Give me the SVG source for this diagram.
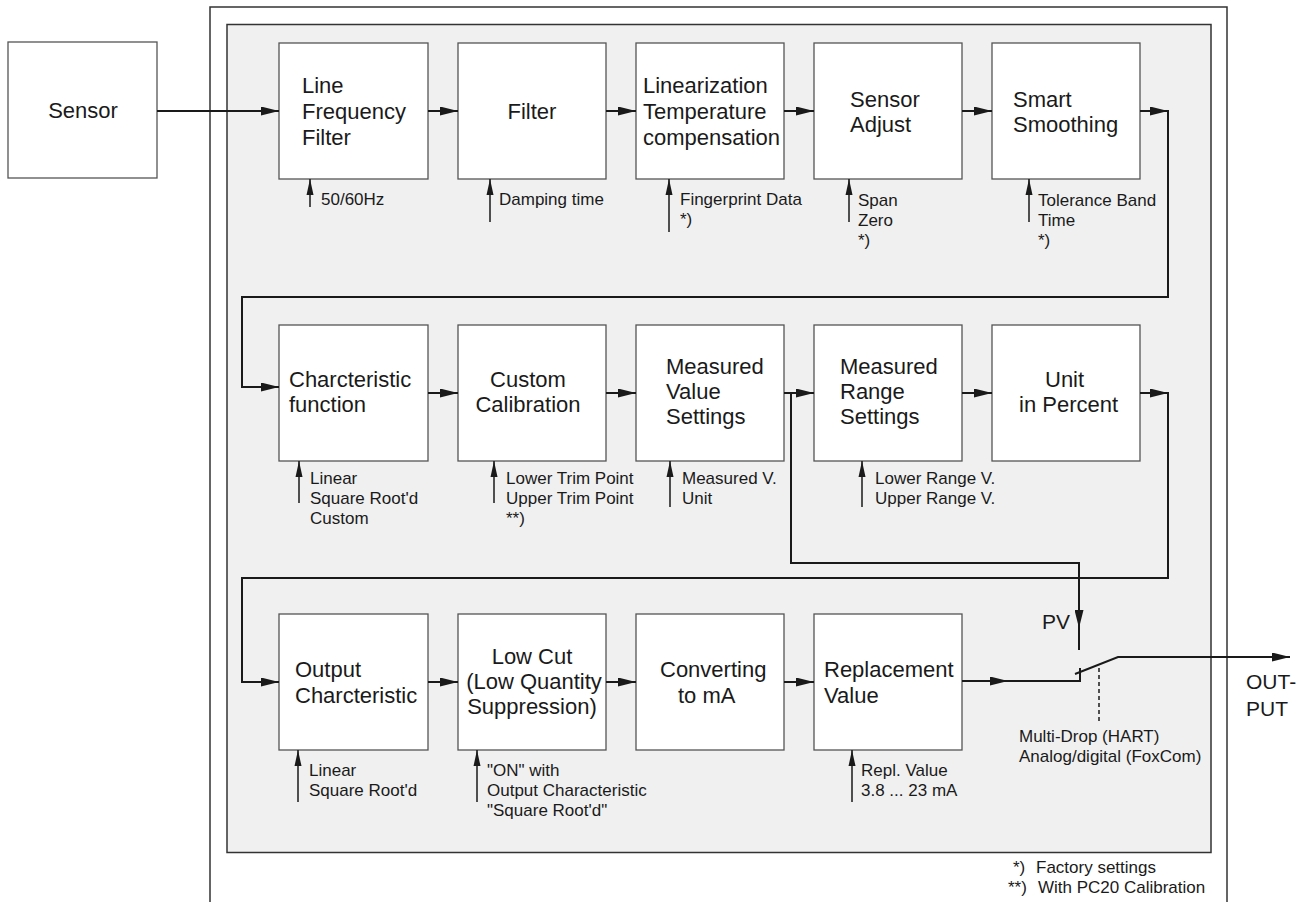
<svg xmlns="http://www.w3.org/2000/svg" width="1308" height="902" viewBox="0 0 1308 902">
<style>
.bg{fill:#fff}
.frame{fill:none;stroke:#333;stroke-width:1.5}
.panel{fill:#f0f0f0;stroke:#333;stroke-width:1.5}
.box{fill:#fff;stroke:#555;stroke-width:1.3}
.t{font-family:"Liberation Sans",Arial,Helvetica,sans-serif;font-size:22px;fill:#1a1a1a}
.s{font-size:17px}
.m{text-anchor:middle}
.e{text-anchor:end}
.c{fill:none;stroke:#1a1a1a;stroke-width:2}
.p{fill:none;stroke:#1a1a1a;stroke-width:1.5}
.d{fill:none;stroke:#1a1a1a;stroke-width:1.5;stroke-dasharray:4 3}
</style>
<defs>
<marker id="ah" markerUnits="userSpaceOnUse" markerWidth="18" markerHeight="9" refX="18" refY="4.5" orient="auto">
<path d="M0,0 L18,4.5 L0,9 z" fill="#1a1a1a"/>
</marker>
<marker id="ap" markerUnits="userSpaceOnUse" markerWidth="16" markerHeight="8" refX="16" refY="4" orient="auto">
<path d="M0,0.5 L16,4 L0,7.5 z" fill="#1a1a1a"/>
</marker>
</defs>
<rect class="bg" x="0" y="0" width="1308" height="902"/>
<path class="frame" d="M210,903 V7 H1227 V903"/>
<rect class="panel" x="227" y="24.5" width="984" height="828"/>

<g id="sensor"><rect class="box" x="8" y="42" width="149" height="136"/><text class="t m" x="83" y="118">Sensor</text></g>

<g id="n1"><rect class="box" x="279" y="43" width="149" height="136"/>
<text class="t" x="302" y="93">Line</text><text class="t" x="302" y="119">Frequency</text><text class="t" x="302" y="145">Filter</text></g>
<g id="n2"><rect class="box" x="458" y="43" width="148" height="136"/>
<text class="t m" x="532" y="119">Filter</text></g>
<g id="n3"><rect class="box" x="636" y="43" width="148" height="136"/>
<text class="t" x="643" y="93">Linearization</text><text class="t" x="643" y="119">Temperature</text><text class="t" x="643" y="145" textLength="137" lengthAdjust="spacingAndGlyphs">compensation</text></g>
<g id="n4"><rect class="box" x="814" y="43" width="148" height="136"/>
<text class="t" x="850" y="107">Sensor</text><text class="t" x="850" y="132">Adjust</text></g>
<g id="n5"><rect class="box" x="992" y="43" width="148" height="136"/>
<text class="t" x="1013" y="107">Smart</text><text class="t" x="1013" y="132">Smoothing</text></g>

<g id="n6"><rect class="box" x="279" y="325" width="149" height="136"/>
<text class="t" x="289" y="387">Charcteristic</text><text class="t" x="289" y="412">function</text></g>
<g id="n7"><rect class="box" x="458" y="325" width="148" height="136"/>
<text class="t m" x="528" y="387">Custom</text><text class="t m" x="528" y="412">Calibration</text></g>
<g id="n8"><rect class="box" x="636" y="325" width="148" height="136"/>
<text class="t" x="666" y="374">Measured</text><text class="t" x="666" y="399">Value</text><text class="t" x="666" y="424">Settings</text></g>
<g id="n9"><rect class="box" x="814" y="325" width="148" height="136"/>
<text class="t" x="840" y="374">Measured</text><text class="t" x="840" y="399">Range</text><text class="t" x="840" y="424">Settings</text></g>
<g id="n10"><rect class="box" x="992" y="325" width="148" height="136"/>
<text class="t" x="1045" y="387">Unit</text><text class="t" x="1019" y="412">in Percent</text></g>

<g id="n11"><rect class="box" x="279" y="614" width="149" height="136"/>
<text class="t" x="295" y="677">Output</text><text class="t" x="295" y="703">Charcteristic</text></g>
<g id="n12"><rect class="box" x="458" y="614" width="148" height="136"/>
<text class="t m" x="532" y="664">Low Cut</text><text class="t m" x="534" y="689">(Low Quantity</text><text class="t m" x="532" y="714">Suppression)</text></g>
<g id="n13"><rect class="box" x="636" y="614" width="148" height="136"/>
<text class="t" x="660" y="677">Converting</text><text class="t" x="678" y="703">to mA</text></g>
<g id="n14"><rect class="box" x="814" y="614" width="148" height="136"/>
<text class="t" x="824" y="677">Replacement</text><text class="t" x="824" y="703">Value</text></g>

<g id="connectors">
<line class="c" x1="157" y1="111" x2="279" y2="111" marker-end="url(#ah)"/>
<line class="c" x1="428" y1="111" x2="458" y2="111" marker-end="url(#ah)"/>
<line class="c" x1="606" y1="111" x2="636" y2="111" marker-end="url(#ah)"/>
<line class="c" x1="784" y1="111" x2="814" y2="111" marker-end="url(#ah)"/>
<line class="c" x1="962" y1="111" x2="992" y2="111" marker-end="url(#ah)"/>
<line class="c" x1="1140" y1="111" x2="1168" y2="111" marker-end="url(#ah)"/>
<path class="c" d="M1168,110 V297 H242 V387 H279" marker-end="url(#ah)"/>

<line class="c" x1="428" y1="393" x2="458" y2="393" marker-end="url(#ah)"/>
<line class="c" x1="606" y1="393" x2="636" y2="393" marker-end="url(#ah)"/>
<line class="c" x1="784" y1="393" x2="814" y2="393" marker-end="url(#ah)"/>
<line class="c" x1="962" y1="393" x2="992" y2="393" marker-end="url(#ah)"/>
<line class="c" x1="1140" y1="393" x2="1168" y2="393" marker-end="url(#ah)"/>
<path class="c" d="M1168,392 V578 H242 V682 H279" marker-end="url(#ah)"/>

<line class="c" x1="428" y1="682" x2="458" y2="682" marker-end="url(#ah)"/>
<line class="c" x1="606" y1="682" x2="636" y2="682" marker-end="url(#ah)"/>
<line class="c" x1="784" y1="682" x2="814" y2="682" marker-end="url(#ah)"/>
<line class="c" x1="962" y1="681" x2="1008" y2="681" marker-end="url(#ah)"/>
<path class="c" d="M1006,681 H1080 V668"/>

<path class="c" d="M791,393 V563 H1079 V628" marker-end="url(#ah)"/>
<line class="c" x1="1079" y1="626" x2="1079" y2="650"/>

<path class="c" d="M1075,674 L1118,657 H1290" marker-end="url(#ah)"/>
<line class="d" x1="1099" y1="668" x2="1099" y2="723"/>

<line class="p" x1="310" y1="207" x2="310" y2="179" marker-end="url(#ap)"/>
<line class="p" x1="490" y1="222" x2="490" y2="179" marker-end="url(#ap)"/>
<line class="p" x1="669" y1="232" x2="669" y2="179" marker-end="url(#ap)"/>
<line class="p" x1="849" y1="222" x2="849" y2="179" marker-end="url(#ap)"/>
<line class="p" x1="1029" y1="222" x2="1029" y2="179" marker-end="url(#ap)"/>

<line class="p" x1="299" y1="503" x2="299" y2="461" marker-end="url(#ap)"/>
<line class="p" x1="494" y1="503" x2="494" y2="461" marker-end="url(#ap)"/>
<line class="p" x1="670" y1="507" x2="670" y2="461" marker-end="url(#ap)"/>
<line class="p" x1="862" y1="507" x2="862" y2="461" marker-end="url(#ap)"/>

<line class="p" x1="298" y1="802" x2="298" y2="750" marker-end="url(#ap)"/>
<line class="p" x1="477" y1="802" x2="477" y2="750" marker-end="url(#ap)"/>
<line class="p" x1="852" y1="802" x2="852" y2="750" marker-end="url(#ap)"/>
</g>

<g id="labels">
<text class="t s" x="321" y="205">50/60Hz</text>
<text class="t s" x="499" y="205">Damping time</text>
<text class="t s" x="680" y="205">Fingerprint Data</text><text class="t s" x="680" y="225">*)</text>
<text class="t s" x="858" y="206">Span</text><text class="t s" x="858" y="226">Zero</text><text class="t s" x="858" y="246">*)</text>
<text class="t s" x="1038" y="206">Tolerance Band</text><text class="t s" x="1038" y="226">Time</text><text class="t s" x="1038" y="246">*)</text>

<text class="t s" x="310" y="484">Linear</text><text class="t s" x="310" y="504">Square Root'd</text><text class="t s" x="310" y="524">Custom</text>
<text class="t s" x="506" y="484">Lower Trim Point</text><text class="t s" x="506" y="504">Upper Trim Point</text><text class="t s" x="506" y="524">**)</text>
<text class="t s" x="682" y="484">Measured V.</text><text class="t s" x="682" y="504">Unit</text>
<text class="t s" x="875" y="484">Lower Range V.</text><text class="t s" x="875" y="504">Upper Range V.</text>

<text class="t s" x="309" y="776">Linear</text><text class="t s" x="309" y="796">Square Root'd</text>
<text class="t s" x="487" y="776">"ON" with</text><text class="t s" x="487" y="796">Output Characteristic</text><text class="t s" x="487" y="816">"Square Root'd"</text>
<text class="t s" x="861" y="776">Repl. Value</text><text class="t s" x="861" y="796">3.8 ... 23 mA</text>

<text class="t e" x="1070" y="629" style="font-size:21px">PV</text>
<text class="t s" x="1019" y="742">Multi-Drop (HART)</text><text class="t s" x="1019" y="762">Analog/digital (FoxCom)</text>
<text class="t" x="1246" y="689" style="font-size:21px">OUT-</text><text class="t" x="1246" y="716" style="font-size:21px">PUT</text>

<text class="t s" x="1013" y="873">*)</text><text class="t s" x="1036" y="873">Factory settings</text>
<text class="t s" x="1008" y="893">**)</text><text class="t s" x="1038" y="893">With PC20 Calibration</text>
</g>
</svg>
